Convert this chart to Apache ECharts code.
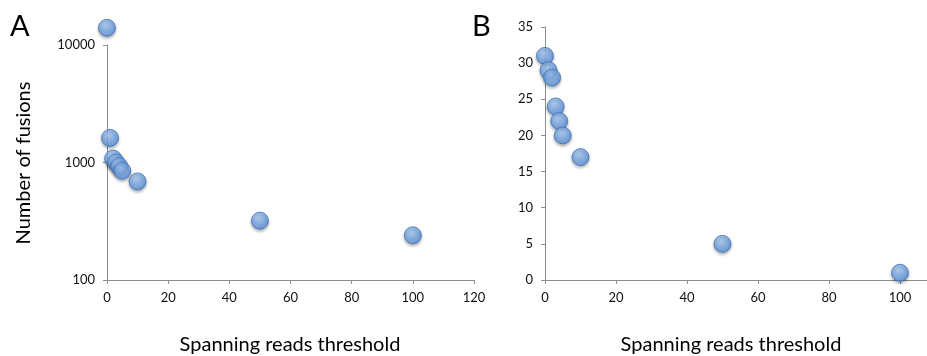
<!DOCTYPE html>
<html>
<head>
<meta charset="utf-8">
<script src="https://cdn.jsdelivr.net/npm/echarts@6/dist/echarts.min.js"></script>
<style>
  html, body { margin: 0; padding: 0; background: #fff; }
  #chart { width: 927px; height: 356px; }
</style>
</head>
<body>
<div id="chart"></div>
<script>
// spanning reads threshold (x)
var thresholds = [0, 1, 2, 3, 4, 5, 10, 50, 100]
// panel A: number of fusions (log axis)
var fusionsA = [14000, 1620, 1080, 1000, 930, 850, 690, 320, 240]
// panel B: number of fusions
var fusionsB = [31, 29, 28, 24, 22, 20, 17, 5, 1]

var axisColor = '#8c8c8c'
var font = 'Lato, "Open Sans", sans-serif'

function pairs(xs, ys) {
  return xs.map(function (x, i) { return [x, ys[i]] })
}

var dot = {
  color: {
    type: 'radial', x: 0.4, y: 0.3, r: 0.75,
    colorStops: [
      { offset: 0, color: '#a6cbf6' },
      { offset: 1, color: '#4f88d6' }
    ]
  },
  borderColor: '#3f74bd',
  borderWidth: 1,
  shadowColor: 'rgba(0,0,0,0.35)',
  shadowBlur: 3,
  shadowOffsetY: 2
}

function xAxisCfg(gridIndex) {
  return {
    gridIndex: gridIndex,
    type: 'value',
    min: 0,
    max: 120,
    interval: 20,
    axisLine: { show: true, lineStyle: { color: axisColor, width: 1 } },
    axisTick: { show: true, length: 4, lineStyle: { color: axisColor } },
    axisLabel: { color: '#111', fontSize: 13, fontFamily: font, margin: 11 },
    splitLine: { show: false }
  }
}

var myChart = echarts.init(document.getElementById('chart'))

var option = {
  animation: false,
  grid: [
    { left: 107, top: 45, width: 367, height: 235, outerBoundsMode: 'none' },
    { left: 545, top: 27, width: 426, height: 253, outerBoundsMode: 'none' }
  ],
  xAxis: [xAxisCfg(0), xAxisCfg(1)],
  yAxis: [
    {
      gridIndex: 0,
      type: 'log',
      logBase: 10,
      min: 100,
      max: 10000,
      axisLine: { show: true, lineStyle: { color: axisColor } },
      axisTick: { show: true, length: 4, lineStyle: { color: axisColor } },
      axisLabel: {
        color: '#111', fontSize: 13, fontFamily: font, margin: 12,
        formatter: function (v) { return String(Math.round(v)) }
      },
      minorTick: { show: false },
      splitLine: { show: false }
    },
    {
      gridIndex: 1,
      type: 'value',
      min: 0,
      max: 35,
      interval: 5,
      axisLine: { show: true, lineStyle: { color: axisColor } },
      axisTick: { show: true, length: 4, lineStyle: { color: axisColor } },
      axisLabel: { color: '#111', fontSize: 13, fontFamily: font, margin: 12 },
      splitLine: { show: false }
    }
  ],
  series: [
    {
      type: 'scatter',
      xAxisIndex: 0,
      yAxisIndex: 0,
      symbolSize: 17,
      clip: false,
      itemStyle: dot,
      data: pairs(thresholds, fusionsA)
    },
    {
      type: 'scatter',
      xAxisIndex: 1,
      yAxisIndex: 1,
      symbolSize: 17,
      clip: false,
      itemStyle: dot,
      data: pairs(thresholds, fusionsB)
    }
  ],
  graphic: [
    { type: 'text', left: 10, top: 12, style: { text: 'A', fontSize: 29, fontFamily: font, fill: '#000' } },
    { type: 'text', left: 472, top: 12, style: { text: 'B', fontSize: 29, fontFamily: font, fill: '#000' } },
    {
      type: 'text', x: 24, y: 163, rotation: Math.PI / 2,
      style: { text: 'Number of fusions', fontSize: 20, fontFamily: font, fill: '#000', align: 'center', verticalAlign: 'middle' }
    },
    {
      type: 'text', x: 290, y: 345,
      style: { text: 'Spanning reads threshold', fontSize: 20, fontFamily: font, fill: '#000', align: 'center', verticalAlign: 'middle' }
    },
    {
      type: 'text', x: 731, y: 345,
      style: { text: 'Spanning reads threshold', fontSize: 20, fontFamily: font, fill: '#000', align: 'center', verticalAlign: 'middle' }
    }
  ]
}

myChart.setOption(option)
</script>
</body>
</html>
